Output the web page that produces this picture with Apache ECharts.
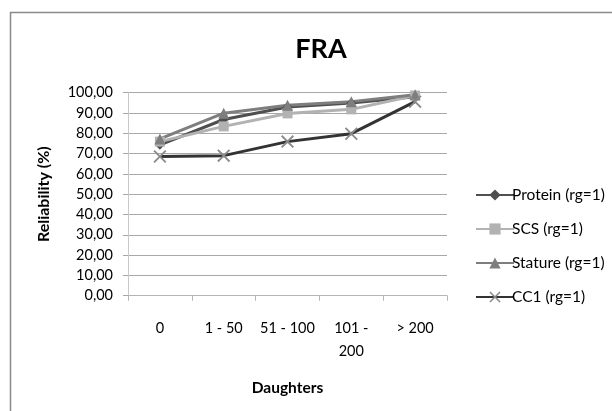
<!DOCTYPE html>
<html><head><meta charset="utf-8">
<script src="https://cdn.jsdelivr.net/npm/echarts@6/dist/echarts.min.js"></script>
<style>html,body{margin:0;padding:0;background:#fff}#c{width:612px;height:411px}</style>
</head><body><div id="c"></div>
<script>
const categories = ['0', '1 - 50', '51 - 100', '101 -\n200', '> 200'];
const protein = [74.3, 86.8, 93.0, 94.9, 98.0];
const scs = [75.9, 83.4, 89.8, 91.8, 98.6];
const stature = [77.2, 89.9, 93.8, 95.6, 99.0];
const cc1 = [68.6, 69.0, 75.9, 79.8, 95.6];
const yTicks = {min: 0, max: 100, interval: 10};

const FONT = 'Lato';
const xPath = 'path://M0,1L1,0L5,4L9,0L10,1L6,5L10,9L9,10L5,6L1,10L0,9L4,5Z';

function mk(name, data, color, symbol, size, symColor) {
  return {
    name, type: 'line', data,
    symbol, symbolSize: size,
    lineStyle: {color, width: 3},
    itemStyle: {color: symColor || color},
    emphasis: {disabled: true},
    animation: false
  };
}

const chart = echarts.init(document.getElementById('c'));
chart.setOption({
  backgroundColor: '#fff',
  animation: false,
  title: {
    text: 'FRA', left: 316, top: 31, textAlign: 'center',
    textStyle: {fontFamily: FONT, fontSize: 27, fontWeight: 'bold', color: '#000'}
  },
  graphic: [{
    type: 'rect', shape: {x: 10.5, y: 12.5, width: 700, height: 600},
    style: {fill: 'none', stroke: '#8a8a8a', lineWidth: 1.5}, silent: true
  }],
  grid: {left: 128, right: 165, top: 92.7, bottom: 115.3},
  legend: {
    orient: 'vertical', left: 470, top: 182,
    itemWidth: 38, itemHeight: 14, itemGap: 18,
    textStyle: {fontFamily: FONT, fontSize: 15.5, lineHeight: 16, color: '#000', padding: [0, 0, 0, -7]},
    data: ['Protein (rg=1)', 'SCS (rg=1)', 'Stature (rg=1)', 'CC1 (rg=1)']
  },
  xAxis: {
    type: 'category', data: categories, boundaryGap: true,
    name: 'Daughters', nameLocation: 'middle', nameGap: 84,
    nameTextStyle: {fontFamily: FONT, fontSize: 15.5, fontWeight: 'bold', color: '#000'},
    axisLine: {lineStyle: {color: '#b5b5b5', width: 1}},
    axisTick: {show: true, length: 5, alignWithLabel: false, lineStyle: {color: '#b5b5b5'}},
    axisLabel: {interval: 0, fontFamily: FONT, fontSize: 14.5, color: '#000', margin: 21, lineHeight: 23}
  },
  yAxis: {
    type: 'value', min: yTicks.min, max: yTicks.max, interval: yTicks.interval,
    name: 'Reliability (%)', nameLocation: 'middle', nameGap: 76, nameRotate: 90,
    nameTextStyle: {fontFamily: FONT, fontSize: 16, fontWeight: 'bold', color: '#000'},
    axisLine: {show: true, lineStyle: {color: '#c8c8c8', width: 1}},
    axisTick: {show: true, length: 5, lineStyle: {color: '#a8a8a8'}},
    splitLine: {lineStyle: {color: '#a8a8a8', width: 1.2}},
    axisLabel: {fontFamily: FONT, fontSize: 14.5, color: '#000', margin: 15,
      formatter: v => v.toFixed(2).replace('.', ',')}
  },
  series: [
    mk('Protein (rg=1)', protein, '#4f4f4f', 'diamond', 10),
    mk('SCS (rg=1)', scs, '#b2b2b2', 'rect', 10),
    mk('Stature (rg=1)', stature, '#7e7e7e', 'triangle', 11),
    mk('CC1 (rg=1)', cc1, '#333333', xPath, 13, '#8a8a8a')
  ]
});
</script></body></html>
